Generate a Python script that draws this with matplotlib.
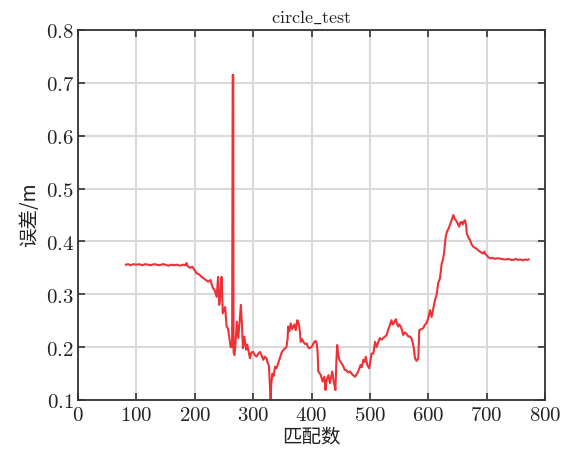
import matplotlib
matplotlib.use("Agg")
import matplotlib.pyplot as plt
from matplotlib.ticker import FuncFormatter

# matched-count index and error readings
match_idx = [82, 86, 90, 95, 100, 105, 110, 115, 120, 125, 130, 135, 140, 145, 150, 155,
             160, 165, 170, 175, 180, 184, 186, 188, 192, 196, 200, 203, 207, 210, 214,
             218, 223, 227, 231, 234, 237.5, 240, 242, 244, 246, 248, 250, 252, 254.6,
             257, 259, 261.6, 263, 264, 265, 266, 266.5, 268, 270, 272, 274.6, 277, 279,
             281, 282.5, 285, 288, 290, 292, 294.6, 297, 300, 303, 306, 309, 312, 315,
             317.5, 320, 323, 325, 327, 329, 330, 331, 333, 335, 337.5, 340, 343, 346,
             349, 352, 355, 357, 359, 360, 362, 364.5, 367, 370.6, 373, 375.7, 378, 380,
             381.5, 384, 386, 389, 391.8, 394, 396, 400, 403, 405, 407, 409, 410.5, 411.6,
             414, 416, 419, 422, 424, 426, 429, 431.5, 433, 435.6, 438, 441, 442.5, 444,
             446, 447.6, 451.6, 454, 457, 460, 463, 466, 470, 474.6, 477, 480, 484, 486,
             488.7, 491, 493, 495.6, 499, 501, 503, 506, 508.8, 511.6, 514.5, 517, 520,
             522.7, 526, 528.8, 531, 534.4, 537, 539, 541, 543, 544.7, 546, 548.7, 550,
             552.6, 555, 557, 560, 563, 566, 568.7, 571, 573, 575, 577.3, 580, 583, 584.6,
             588, 591.5, 594, 597, 600, 603, 605.7, 608.6, 611.5, 614.5, 617, 620, 623,
             625, 627, 630, 632, 635, 637, 640, 643, 645, 647.5, 650, 653, 655, 657, 659,
             661, 663, 665, 666, 668, 670, 671.5, 674, 677, 680, 683, 685, 688, 690, 692,
             694, 696, 698, 700, 703, 706, 710, 714, 717, 721, 725, 730, 734, 738, 742,
             746, 750, 754, 758, 762, 766, 769, 772]
error_m = [0.356, 0.357, 0.355, 0.357, 0.356, 0.357, 0.355, 0.357, 0.356, 0.355, 0.357, 0.356, 0.355, 0.357, 0.356, 0.354,
           0.356, 0.355, 0.356, 0.354, 0.356, 0.355, 0.359, 0.353, 0.350, 0.352, 0.345, 0.340, 0.338, 0.335, 0.331,
           0.328, 0.324, 0.327, 0.312, 0.308, 0.295, 0.333, 0.280, 0.300, 0.333, 0.264, 0.270, 0.276, 0.239,
           0.235, 0.220, 0.200, 0.205, 0.200, 0.715, 0.715, 0.190, 0.185, 0.210, 0.248, 0.217, 0.250, 0.280,
           0.240, 0.198, 0.220, 0.195, 0.205, 0.193, 0.179, 0.190, 0.191, 0.185, 0.182, 0.188, 0.191, 0.183,
           0.176, 0.182, 0.179, 0.170, 0.165, 0.120, 0.100, 0.130, 0.150, 0.145, 0.163, 0.160, 0.170, 0.180,
           0.190, 0.195, 0.198, 0.200, 0.215, 0.239, 0.230, 0.245, 0.234, 0.243, 0.232, 0.251, 0.245, 0.230,
           0.210, 0.215, 0.210, 0.206, 0.207, 0.200, 0.198, 0.200, 0.206, 0.210, 0.212, 0.207, 0.190, 0.154,
           0.150, 0.147, 0.135, 0.144, 0.119, 0.138, 0.147, 0.132, 0.140, 0.154, 0.135, 0.119, 0.170, 0.204,
           0.185, 0.176, 0.169, 0.165, 0.157, 0.156, 0.152, 0.154, 0.148, 0.144, 0.148, 0.154, 0.166, 0.162,
           0.176, 0.172, 0.182, 0.166, 0.160, 0.175, 0.188, 0.188, 0.210, 0.200, 0.210, 0.217, 0.214,
           0.217, 0.220, 0.223, 0.232, 0.242, 0.251, 0.243, 0.245, 0.250, 0.253, 0.246, 0.239, 0.243,
           0.240, 0.232, 0.223, 0.228, 0.225, 0.220, 0.220, 0.217, 0.210, 0.200, 0.179, 0.174, 0.179, 0.232,
           0.234, 0.236, 0.242, 0.245, 0.255, 0.270, 0.257, 0.273, 0.289, 0.300, 0.321, 0.330, 0.358,
           0.365, 0.377, 0.410, 0.418, 0.425, 0.431, 0.440, 0.450, 0.443, 0.440, 0.435, 0.428, 0.436, 0.437, 0.432,
           0.438, 0.440, 0.430, 0.415, 0.410, 0.405, 0.403, 0.395, 0.390, 0.388, 0.386, 0.384, 0.381, 0.380, 0.378,
           0.377, 0.381, 0.376, 0.374, 0.370, 0.368, 0.369, 0.367, 0.368, 0.368, 0.367, 0.366, 0.366, 0.367, 0.365,
           0.365, 0.367, 0.365, 0.366, 0.364, 0.366, 0.365, 0.366]

x_ticks = [0, 100, 200, 300, 400, 500, 600, 700, 800]
y_ticks = [0.1, 0.2, 0.3, 0.4, 0.5, 0.6, 0.7, 0.8]

plt.rcParams['mathtext.fontset'] = 'cm'
plt.rcParams['font.family'] = ['Noto Sans CJK SC', 'DejaVu Sans']

fig = plt.figure(figsize=(5.63, 4.49), dpi=100)
ax = fig.add_axes([78 / 563, 1 - 400 / 449, 467 / 563, 370 / 449])

ax.plot(match_idx, error_m, color='#ec3237', linewidth=1.5)

ax.set_xlim(0, 800)
ax.set_ylim(0.1, 0.8)
ax.set_xticks(x_ticks)
ax.set_yticks(y_ticks)
ax.xaxis.set_major_formatter(FuncFormatter(lambda v, p: r'$%g$' % v))
ax.yaxis.set_major_formatter(FuncFormatter(lambda v, p: r'$%g$' % round(v, 1)))
ax.tick_params(direction='in', top=True, right=True, length=5, width=1.2,
               color='#333333', labelsize=15, labelcolor='#222222', pad=3)
ax.grid(True, color='#d9d9d9', linewidth=1.5)
ax.set_axisbelow(True)
for sp in ax.spines.values():
    sp.set_color('#333333')
    sp.set_linewidth(1.3)

ax.set_title(r'$\mathrm{circle\_test}$', fontsize=13, color='#222222', pad=5)
ax.set_xlabel('匹配数', fontsize=14, color='#222222', labelpad=1)
ax.set_ylabel('误差/m', fontsize=14, color='#222222', labelpad=4)

fig.savefig('out.png', dpi=100)
plt.close(fig)
